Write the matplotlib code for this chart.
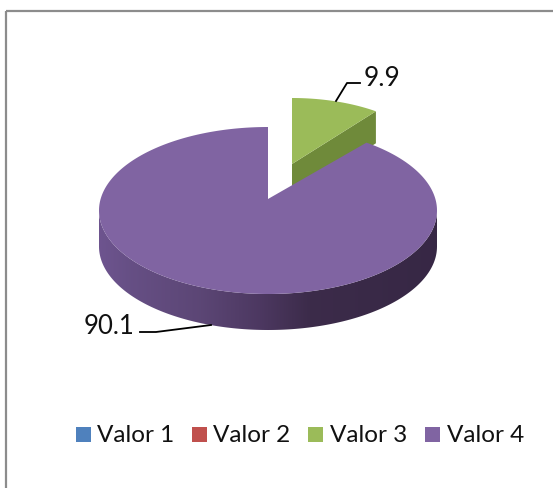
import numpy as np
import matplotlib
matplotlib.use('Agg')
import matplotlib.pyplot as plt
from matplotlib.patches import Polygon, Rectangle

categorias = ['Valor 1', 'Valor 2', 'Valor 3', 'Valor 4']
valores = [0, 0, 9.9, 90.1]
rotulos = ['', '', '9.9', '90.1']
cores = ['#4f81bd', '#c0504d', '#9bbb59', '#8064a2']

plt.rcParams['font.family'] = ['Lato', 'DejaVu Sans']

fig = plt.figure(figsize=(5.53, 4.89), dpi=100)
ax = fig.add_axes([0, 0, 1, 1])
ax.axis('off')

# moldura do grafico (so esquerda e topo)
ax.plot([5.5, 5.5], [489, 11.5], color='#8c8c8c', lw=1.6, solid_capstyle='butt')
ax.plot([5.5, 553], [11.5, 11.5], color='#8c8c8c', lw=1.6, solid_capstyle='butt')


# ponto na elipse, angulo em graus no sentido horario a partir do topo
def elipse(cx, cy, rx, ry, ang):
    a = np.radians(ang)
    return np.column_stack([cx + rx * np.sin(a), cy - ry * np.cos(a)])


total = sum(valores)
inicio_verde = 0
fim_verde = valores[2] / total * 360

# fatia verde destacada
tv = (292, 165)
prof_v = 32
borda_v = elipse(292, 170, 144, 71, np.linspace(inicio_verde, fim_verde, 40))
fim_v = borda_v[-1]
ax.add_patch(Polygon([tv, fim_v, (fim_v[0], fim_v[1] + prof_v), (tv[0], tv[1] + prof_v)],
                     fc='#6f8a3a', ec='none', zorder=2))
ax.add_patch(Polygon(np.vstack([[tv], borda_v]), fc=cores[2], ec='none', zorder=3))

# fatia roxa
cx, cy, rx, ry = 268, 211.5, 169, 83.5
prof = 36
tp = (268, 200)
ang_roxo = np.linspace(fim_verde, 360, 300)
borda_r = elipse(cx, cy, rx, ry, ang_roxo)

# parede lateral com degrade, recortada na forma da lateral
ang_lado = np.linspace(90, 270, 181)
pts = elipse(cx, cy, rx, ry, ang_lado)
lado = Polygon(np.vstack([pts, pts[::-1] + (0, prof)]), fc='none', ec='none',
               transform=ax.transData, zorder=4)
ax.add_patch(lado)
grad_x = [99, 130, 200, 260, 310, 437]
grad_r = [0.43, 0.40, 0.36, 0.30, 0.235, 0.215]
grad_g = [0.33, 0.31, 0.275, 0.22, 0.17, 0.155]
grad_b = [0.56, 0.52, 0.46, 0.38, 0.29, 0.27]
xs = np.arange(99, 438)
faixa = np.column_stack([np.interp(xs, grad_x, grad_r), np.interp(xs, grad_x, grad_g),
                         np.interp(xs, grad_x, grad_b)])[np.newaxis, :, :]
im = ax.imshow(faixa, extent=(99, 437, 335, 205), aspect='auto', zorder=4, interpolation='bilinear')
im.set_clip_path(lado)

ax.add_patch(Polygon(np.vstack([[tp], borda_r]), fc=cores[3], ec='none', zorder=5))

ax.set_xlim(0, 553)
ax.set_ylim(489, 0)

# rotulos e linhas de chamada
ax.plot([336, 347, 360], [102, 84, 84], color='black', lw=1.3, zorder=6)
ax.text(364, 78, rotulos[2], fontsize=19, color='#111111', va='center', ha='left', zorder=7)
ax.plot([140, 156, 211], [333, 333, 326], color='black', lw=1.3, zorder=6)
ax.text(134.5, 326, rotulos[3], fontsize=18.5, color='#111111', va='center', ha='right', zorder=7)

# legenda
leg_q = [76, 192, 308, 425]
leg_t = [97, 213, 330, 447]
for q, t, nome, cor in zip(leg_q, leg_t, categorias, cores):
    ax.add_patch(Rectangle((q, 428), 15, 15, fc=cor, ec='none'))
    ax.text(t, 435.5, nome, fontsize=17.5, color='#111111', va='center', ha='left')

fig.savefig('out.png', dpi=100)
